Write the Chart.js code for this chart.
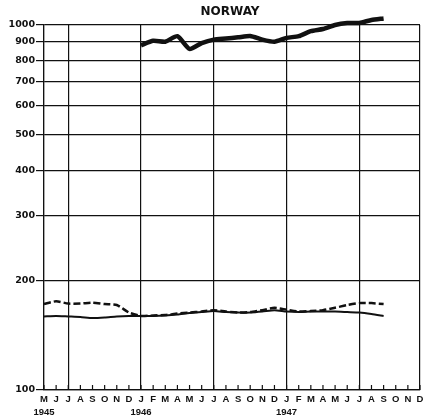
<!DOCTYPE html>
<html>
<head>
<meta charset="utf-8">
<script src="https://cdn.jsdelivr.net/npm/chart.js@4/dist/chart.umd.min.js"></script>
<style>
  html, body { margin: 0; padding: 0; background: #fff; }
  #wrap { width: 431px; height: 418px; }
</style>
</head>
<body>
<div id="wrap"><canvas id="chart"></canvas></div>
<script>
// May 1945 .. Dec 1947
const months = ["M", "J", "J", "A", "S", "O", "N", "D",
    "J", "F", "M", "A", "M", "J", "J", "A", "S", "O", "N", "D",
    "J", "F", "M", "A", "M", "J", "J", "A", "S", "O", "N", "D"];
const yearIndex = [0, 8, 20];
const years = ["1945", "1946", "1947"];
const yTicks = [100, 200, 300, 400, 500, 600, 700, 800, 900, 1000];

const heavy = [null, null, null, null, null, null, null, null,
    880, 905, 900, 932, 860, 892, 912, 918, 925, 933, 912, 900,
    922, 932, 962, 975, 1000, 1012, 1013, 1032, 1042, null, null, null];
const dashed = [172, 175, 172.5, 172.5, 173.5, 172, 171, 163,
    159.5, 160, 160.5, 162, 163, 164, 165.5, 164, 163, 163.5, 165.5, 168,
    166, 164, 164.5, 165.5, 168, 171, 173, 173, 172, null, null, null];
const light = [159, 159.5, 159, 158.5, 157.5, 158, 159, 159.5,
    159.5, 159.5, 160, 161, 162.5, 163.5, 164.5, 163.5, 163, 163, 164, 165.5,
    164, 163.5, 164, 164, 164, 163.5, 163, 161.5, 159.5, null, null, null];

const labels = months.map((m, i) => {
    const k = yearIndex.indexOf(i);
    return k >= 0 ? [m, years[k]] : m;
});

// vertical rules at January and July plus the frame edges
const isRule = i => i === 0 || i === months.length - 1 || i % 6 === 2;

const decor = {
    id: "decor",
    afterDraw(chart) {
        const { ctx, chartArea, scales } = chart;
        ctx.save();
        ctx.strokeStyle = "#111";
        ctx.lineWidth = 1.2;
        months.forEach((m, i) => {
            const px = scales.x.getPixelForTick(i);
            ctx.beginPath();
            ctx.moveTo(px, chartArea.bottom);
            ctx.lineTo(px, chartArea.bottom - 5);
            ctx.stroke();
        });
        ctx.fillStyle = "#111";
        ctx.font = "bold 12px 'DejaVu Sans'";
        ctx.textAlign = "center";
        ctx.textBaseline = "middle";
        ctx.fillText("NORWAY", (chartArea.left + chartArea.right) / 2 - 2, chartArea.top - 13);
        ctx.restore();
    }
};

new Chart(document.getElementById("chart"), {
    type: "line",
    data: {
        labels: labels,
        datasets: [
            {
                data: heavy,
                borderColor: "#111",
                borderWidth: 4.5,
                tension: 0.2,
                clip: false,
            },
            {
                data: dashed,
                borderColor: "#111",
                borderWidth: 2.5,
                borderDash: [7, 3],
                tension: 0.2,
            },
            {
                data: light,
                borderColor: "#111",
                borderWidth: 2,
                tension: 0.2,
            },
        ],
    },
    options: {
        responsive: true,
        maintainAspectRatio: false,
        animation: false,
        layout: { padding: { top: 25, right: 11, left: 0, bottom: 0 } },
        elements: { point: { radius: 0 } },
        plugins: {
            legend: { display: false },
            tooltip: { enabled: false },
        },
        scales: {
            x: {
                ticks: {
                    autoSkip: false,
                    maxRotation: 0,
                    padding: 2,
                    color: "#111",
                    font: { family: "Liberation Sans", weight: "bold", size: 9.5, lineHeight: 1.45 },
                },
                grid: {
                    drawTicks: false,
                    lineWidth: 1.2,
                    color: c => (isRule(c.index) ? "#111" : "rgba(0,0,0,0)"),
                },
                border: { display: true, color: "#111", width: 1.2 },
                afterFit: s => { s.height = 28; },
            },
            y: {
                type: "logarithmic",
                min: 100,
                max: 1000,
                afterBuildTicks: s => { s.ticks = yTicks.map(v => ({ value: v })); },
                ticks: {
                    callback: v => String(v),
                    padding: 1,
                    color: "#111",
                    font: { family: "DejaVu Sans", weight: "bold", size: 9.5 },
                },
                grid: { color: "#111", lineWidth: 1.2, tickLength: 8 },
                border: { display: true, color: "#111", width: 1.2 },
                afterFit: s => { s.width = 44; },
            },
        },
    },
    plugins: [decor],
});
</script>
</body>
</html>
